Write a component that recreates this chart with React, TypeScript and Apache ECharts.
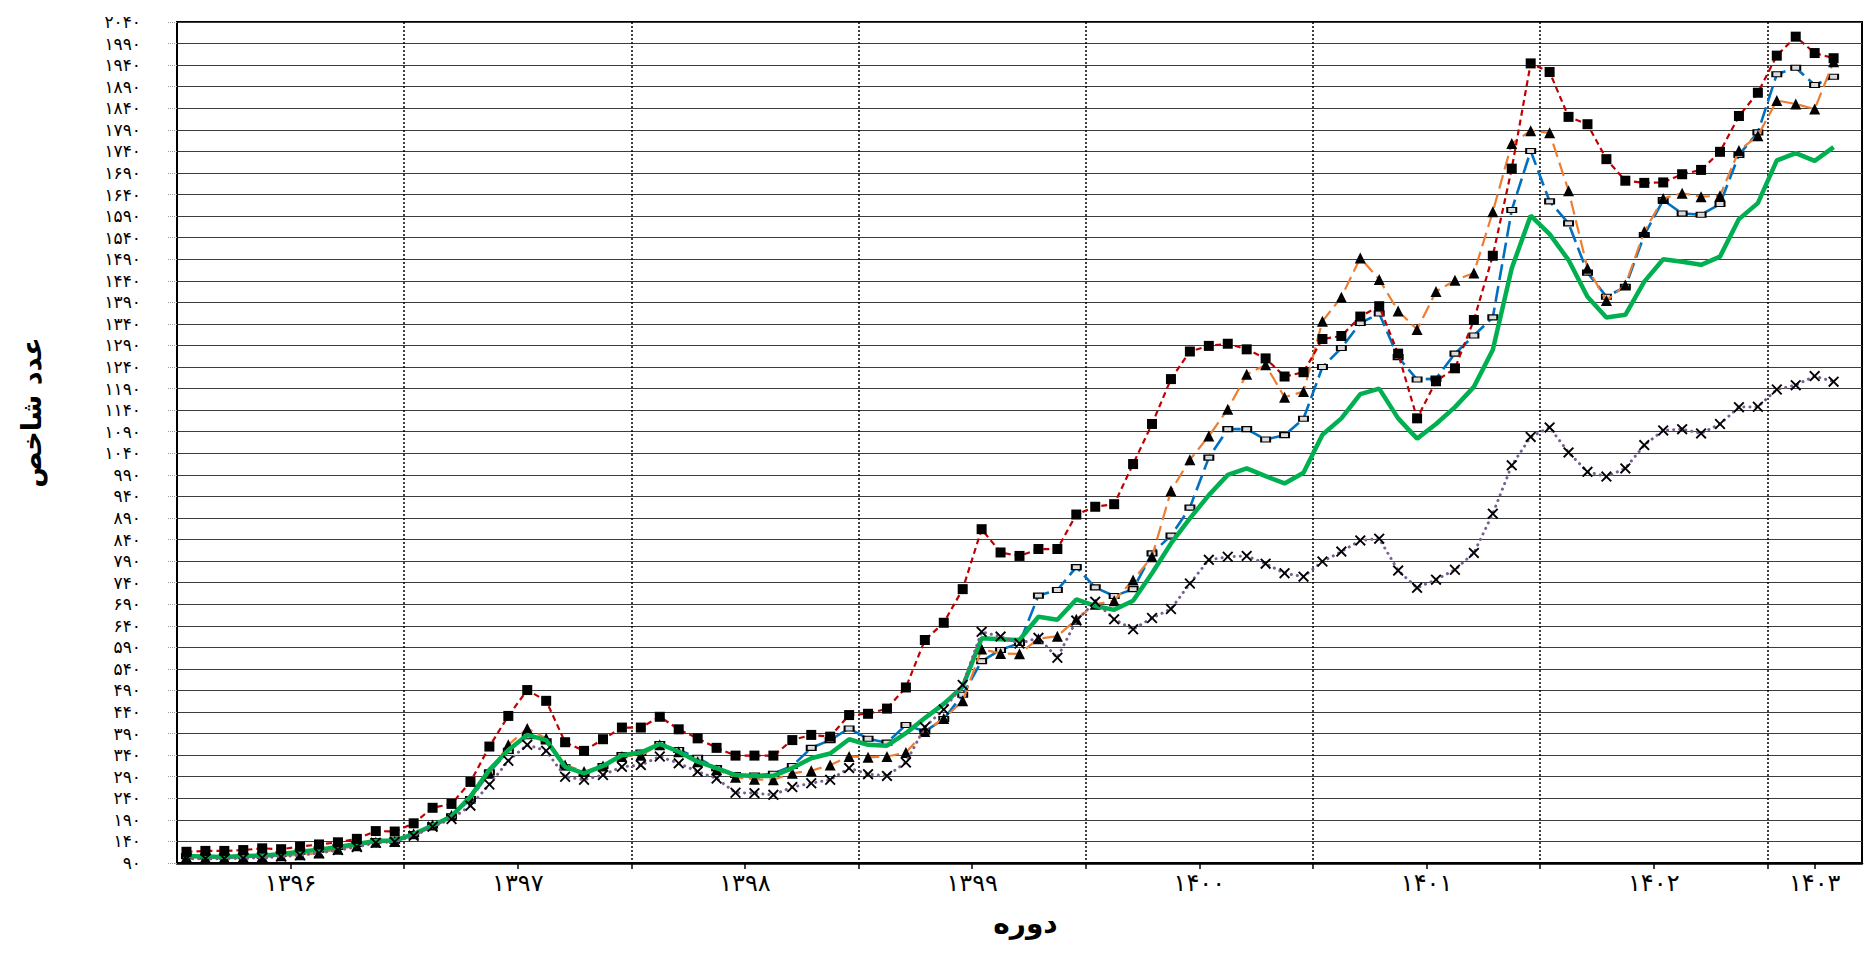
import React, { useEffect, useRef } from "react";
import * as echarts from "echarts";

// ---- data ----
const years = [1396, 1397, 1398, 1399, 1400, 1401, 1402, 1403];
const monthsInYear = [12, 12, 12, 12, 12, 12, 12, 5];

const yTicks = [
  90, 140, 190, 240, 290, 340, 390, 440, 490, 540, 590, 640, 690, 740, 790, 840, 890, 940, 990, 1040,
  1090, 1140, 1190, 1240, 1290, 1340, 1390, 1440, 1490, 1540, 1590, 1640, 1690, 1740, 1790, 1840, 1890, 1940, 1990, 2040,
];

const seriesRed = [
  116, 118, 118, 120, 124, 122, 128, 133, 138, 146, 164, 163,
  182, 218, 227, 278, 360, 431, 491, 466, 370, 350, 377, 404,
  404, 429, 400, 379, 357, 339, 339, 339, 375, 387, 383, 433,
  436, 448, 497, 607, 647, 725, 864, 810, 802, 818, 818, 898,
  916, 922, 1015, 1108, 1212, 1276, 1289, 1294, 1281, 1260, 1218, 1228,
  1305, 1312, 1357, 1381, 1271, 1121, 1207, 1237, 1349, 1498, 1700, 1944,
  1924, 1820, 1803, 1722, 1672, 1667, 1668, 1687, 1697, 1739, 1822, 1876,
  1962, 2006, 1968, 1956,
];
const seriesOrange = [
  104, 103, 103, 104, 105, 107, 109, 113, 122, 130, 138, 140,
  158, 178, 200, 240, 298, 364, 402, 379, 317, 302, 315, 337,
  340, 364, 348, 325, 306, 289, 284, 283, 298, 304, 317, 337,
  335, 337, 346, 395, 425, 466, 586, 576, 575, 610, 616, 655,
  690, 698, 746, 800, 953, 1025, 1080, 1142, 1223, 1245, 1170, 1183,
  1346, 1402, 1493, 1443, 1370, 1327, 1415, 1441, 1458, 1600, 1758, 1788,
  1783, 1649, 1469, 1394, 1430, 1554, 1631, 1643, 1635, 1637, 1742, 1776,
  1858, 1850, 1838, 1948,
];
const seriesBlue = [
  106, 105, 105, 106, 107, 111, 116, 121, 127, 134, 141, 142,
  157, 177, 198, 238, 300, 350, 384, 372, 312, 298, 315, 340,
  346, 366, 352, 334, 310, 294, 293, 297, 315, 357, 375, 402,
  378, 369, 410, 395, 424, 480, 558, 584, 600, 710, 723, 776,
  729, 709, 725, 808, 849, 914, 1030, 1096, 1096, 1072, 1082, 1120,
  1240, 1284, 1342, 1364, 1263, 1211, 1213, 1271, 1313, 1355, 1604, 1741,
  1624, 1573, 1459, 1403, 1426, 1546, 1627, 1596, 1593, 1618, 1732, 1784,
  1919, 1934, 1894, 1913,
];
const seriesGreen = [
  106, 105, 104, 106, 107, 111, 116, 121, 127, 134, 141, 142,
  157, 177, 198, 244, 306, 352, 387, 375, 313, 298, 315, 340,
  346, 366, 348, 325, 310, 294, 292, 292, 310, 333, 344, 377,
  364, 362, 391, 426, 459, 499, 611, 609, 607, 661, 654, 701,
  686, 677, 698, 762, 831, 889, 943, 990, 1005, 987, 970, 995,
  1083, 1121, 1177, 1190, 1121, 1074, 1108, 1147, 1194, 1280, 1469, 1591,
  1548, 1488, 1403, 1355, 1361, 1438, 1490, 1484, 1477, 1496, 1583, 1620,
  1719, 1736, 1718, 1750,
];
const seriesPurple = [
  100, 100, 100, 101, 102, 105, 108, 113, 120, 127, 137, 139,
  153, 174, 192, 223, 272, 327, 364, 350, 290, 283, 294, 313,
  317, 337, 321, 302, 286, 253, 252, 248, 266, 275, 283, 310,
  296, 292, 323, 405, 446, 503, 626, 615, 599, 612, 566, 652,
  696, 655, 632, 658, 679, 738, 793, 800, 802, 784, 762, 754,
  789, 812, 838, 842, 768, 728, 747, 770, 809, 900, 1012, 1078,
  1100, 1042, 997, 986, 1005, 1059, 1093, 1096, 1086, 1108, 1147, 1148,
  1188, 1198, 1219, 1206,
];

const FA_DIGITS = "۰۱۲۳۴۵۶۷۸۹";
const toFa = (v: number | string) => String(v).replace(/\d/g, (d) => FA_DIGITS[Number(d)]);

const FONT = "DejaVu Sans";
const X_SYMBOL =
  "path://M0,1.2 L1.2,0 L5,3.8 L8.8,0 L10,1.2 L6.2,5 L10,8.8 L8.8,10 L5,6.2 L1.2,10 L0,8.8 L3.8,5 Z";

export default function App() {
  const ref = useRef<HTMLDivElement>(null);

  useEffect(() => {
    if (!ref.current) return;
    const chart = echarts.init(ref.current, null, { renderer: "svg" });

    const months: string[] = [];
    years.forEach((y, k) => {
      for (let m = 1; m <= monthsInYear[k]; m++) months.push(`${y}-${m}`);
    });
    const n = months.length;
    const halfCats: string[] = [];
    for (let j = 0; j <= 2 * n; j++) halfCats.push("h" + j);

    const labelAt = new Map<number, string>();
    const boundaries = new Set<number>();
    let cum = 0;
    years.forEach((y, k) => {
      labelAt.set(2 * cum + monthsInYear[k], toFa(y));
      if (k > 0) boundaries.add(2 * cum);
      cum += monthsInYear[k];
    });

    const common = {
      type: "line",
      xAxisIndex: 0,
      yAxisIndex: 0,
      showAllSymbol: true,
      connectNulls: false,
      emphasis: { disabled: true },
    };

    chart.setOption({
      animation: false,
      backgroundColor: "#ffffff",
      grid: {
        left: 177,
        right: 2,
        top: 22,
        bottom: 92,
        show: true,
        borderColor: "#000",
        borderWidth: 2,
        backgroundColor: "transparent",
      },
      xAxis: [
        {
          type: "category",
          data: months,
          boundaryGap: true,
          show: false,
        },
        {
          type: "category",
          data: halfCats,
          boundaryGap: false,
          position: "bottom",
          name: "دوره",
          nameLocation: "middle",
          nameGap: 46,
          nameTextStyle: { fontFamily: FONT, fontWeight: "bold", fontSize: 28, color: "#000", padding: [0, 0, 0, 12] },
          axisLine: { show: true, lineStyle: { color: "#000", width: 2.5 } },
          axisTick: {
            show: true,
            length: 6,
            interval: (i: number) => labelAt.has(i) || boundaries.has(i),
            lineStyle: { color: "#000", width: 1.5 },
          },
          axisLabel: {
            show: true,
            interval: (i: number) => labelAt.has(i),
            formatter: (_v: string, i: number) => labelAt.get(i) || "",
            fontFamily: FONT,
            fontSize: 24,
            color: "#000",
            margin: 8,
          },
          splitLine: {
            show: true,
            interval: (i: number) => boundaries.has(i),
            lineStyle: { color: "#000", width: 1.5, type: [2, 2] },
          },
        },
      ],
      yAxis: [
        {
          type: "value",
          min: 90,
          max: 2040,
          show: false,
          splitLine: { show: false },
        },
        {
          type: "category",
          data: yTicks.map(toFa),
          boundaryGap: false,
          position: "left",
          name: "عدد شاخص",
          nameLocation: "middle",
          nameGap: 132,
          nameTextStyle: { fontFamily: FONT, fontWeight: "bold", fontSize: 27, color: "#000", padding: [0, 0, 0, 60] },
          axisLine: { show: true, lineStyle: { color: "#000", width: 2 } },
          axisTick: { show: true, length: 9, lineStyle: { color: "#999", width: 1, type: [1, 1] } },
          axisLabel: {
            show: true,
            interval: 0,
            fontFamily: FONT,
            fontSize: 17,
            color: "#000",
            margin: 36,
            padding: [0, 0, 8, 0],
          },
          splitLine: { show: true, interval: 0, lineStyle: { color: "#3c3c3c", width: 1 } },
        },
      ],
      series: [
        {
          ...common,
          name: "s1",
          data: seriesRed,
          symbol: "rect",
          symbolSize: 10,
          itemStyle: { color: "#000" },
          lineStyle: { color: "#C00000", width: 2.2, type: [6, 4] },
          z: 6,
        },
        {
          ...common,
          name: "s2",
          data: seriesOrange,
          symbol: "triangle",
          symbolSize: 11,
          itemStyle: { color: "#000" },
          lineStyle: { color: "#ED7D31", width: 2.2, type: [14, 6] },
          z: 4,
        },
        {
          ...common,
          name: "s3",
          data: seriesBlue,
          symbol: "rect",
          symbolSize: [9, 5],
          itemStyle: { color: "#dcdcdc", borderColor: "#000", borderWidth: 1.5 },
          lineStyle: { color: "#0070C0", width: 2.6, type: [16, 6] },
          z: 3,
        },
        {
          ...common,
          name: "s4",
          data: seriesGreen,
          symbol: "none",
          itemStyle: { color: "#00B050" },
          lineStyle: { color: "#00B050", width: 4.5 },
          z: 5,
        },
        {
          ...common,
          name: "s5",
          data: seriesPurple,
          symbol: X_SYMBOL,
          symbolSize: 11,
          itemStyle: { color: "#000" },
          lineStyle: { color: "#7A5F92", width: 3, type: [0.1, 6], cap: "round" },
          z: 7,
        },
      ],
    });

    return () => chart.dispose();
  }, []);

  return (
    <div
      ref={ref}
      style={{ position: "fixed", left: 0, top: 0, width: 1864, height: 955, background: "#fff" }}
    />
  );
}
